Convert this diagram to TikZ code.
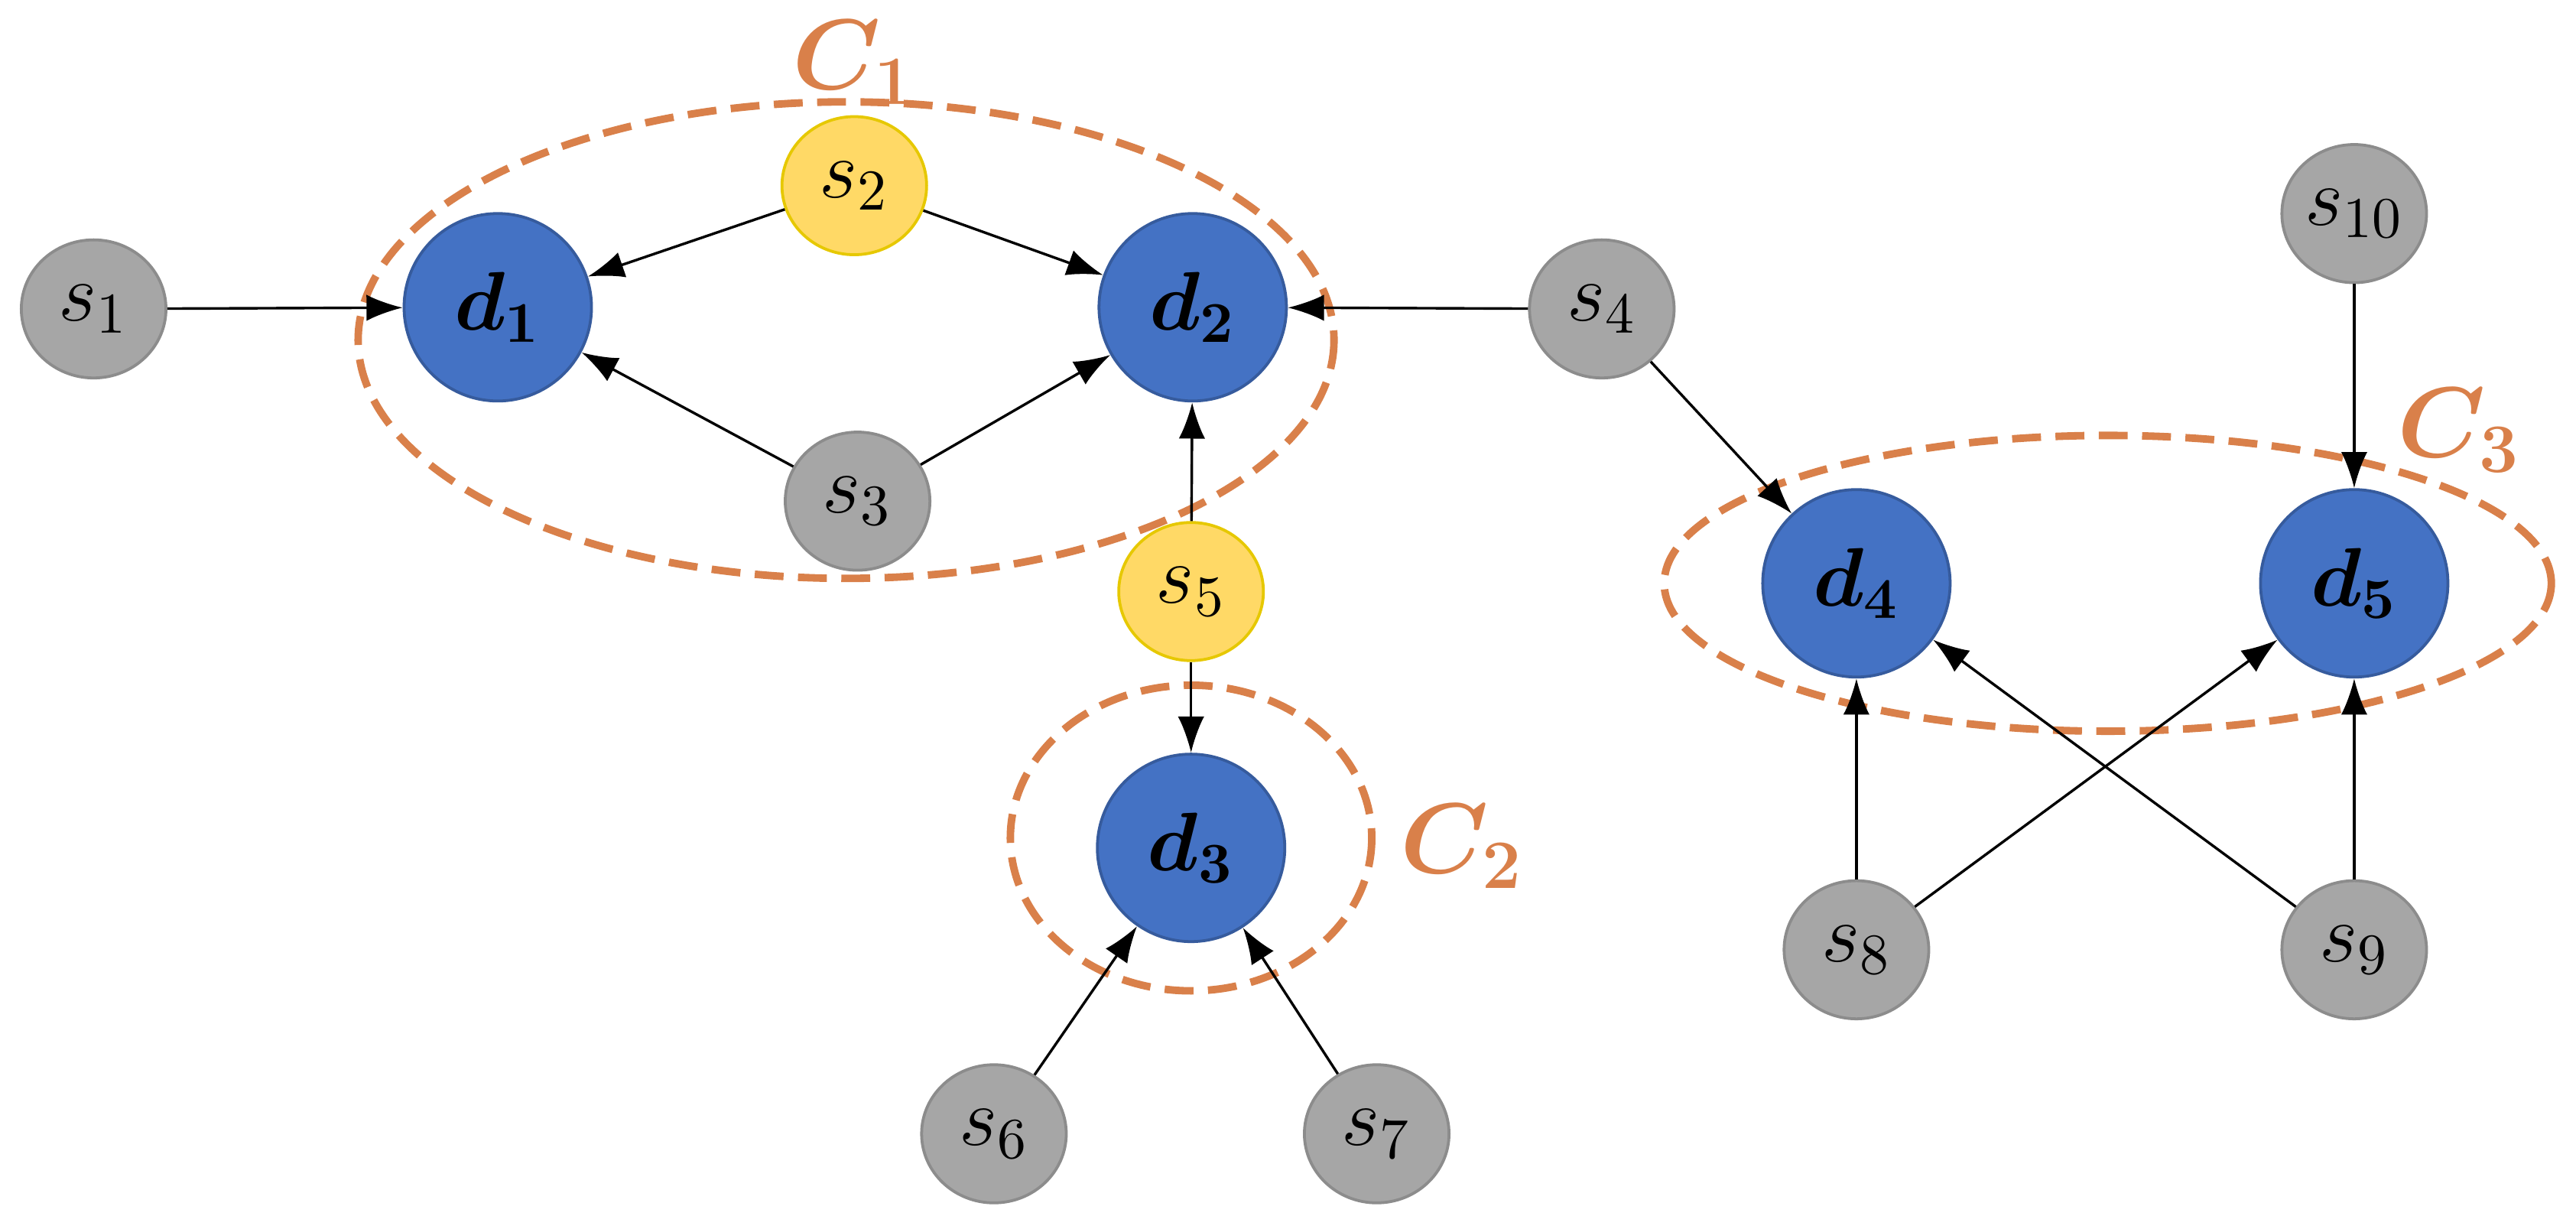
\documentclass[tikz,border=0pt]{standalone}
\usepackage{amsmath}
\usetikzlibrary{shapes.geometric,arrows.meta}
\definecolor{dblue}{HTML}{4472C4}
\definecolor{sgray}{HTML}{A6A6A6}
\definecolor{sgrayb}{HTML}{8C8C8C}
\definecolor{syel}{HTML}{FFD966}
\definecolor{syelb}{HTML}{E6C800}
\definecolor{corg}{HTML}{D9804A}
\begin{document}
\begin{tikzpicture}[x=0.01cm,y=-0.01cm,
  font=\fontsize{14}{16}\selectfont,
  src/.style={ellipse,draw=sgrayb,fill=sgray,line width=0.5pt,minimum width=0.88cm,minimum height=0.84cm,inner sep=0pt},
  ysrc/.style={src,draw=syelb,fill=syel},
  dst/.style={circle,draw=dblue!80!black,fill=dblue,line width=0.5pt,minimum size=1.14cm,inner sep=0pt},
  arr/.style={-{Latex[length=2.2mm,width=1.6mm]},line width=0.45pt},
  clu/.style={draw=corg,dashed,line width=1.3pt,dash pattern=on 5pt off 2.5pt},
  clab/.style={text=corg,font=\fontsize{17}{19}\selectfont}]
\useasboundingbox (0,0) rectangle (1568,740);
\draw[clu] (515,207) ellipse [x radius=297,y radius=145];
\draw[clu] (725,510) ellipse [x radius=110,y radius=93];
\draw[clu] (1283,355) ellipse [x radius=270,y radius=90];
\node[clab] (c1) at (520,38) {$\boldsymbol{C_1}$};
\node[clab] (c2) at (890,515) {$\boldsymbol{C_2}$};
\node[clab] (c3) at (1497,262) {$\boldsymbol{C_3}$};
\node[src] (s1) at (57,188) {$s_1$};
\node[ysrc] (s2) at (520,113) {$s_2$};
\node[src] (s3) at (522,305) {$s_3$};
\node[src] (s4) at (975,188) {$s_4$};
\node[ysrc] (s5) at (725,360) {$s_5$};
\node[src] (s6) at (605,690) {$s_6$};
\node[src] (s7) at (838,690) {$s_7$};
\node[src] (s8) at (1130,578) {$s_8$};
\node[src] (s9) at (1433,578) {$s_9$};
\node[src] (s10) at (1433,130) {$s_{10}$};
\node[dst] (d1) at (303,187) {$\boldsymbol{d_1}$};
\node[dst] (d2) at (726,187) {$\boldsymbol{d_2}$};
\node[dst] (d3) at (725,516) {$\boldsymbol{d_3}$};
\node[dst] (d4) at (1130,355) {$\boldsymbol{d_4}$};
\node[dst] (d5) at (1433,355) {$\boldsymbol{d_5}$};
\draw[arr] (s1) -- (d1);
\draw[arr] (s2) -- (d1);
\draw[arr] (s2) -- (d2);
\draw[arr] (s3) -- (d1);
\draw[arr] (s3) -- (d2);
\draw[arr] (s4) -- (d2);
\draw[arr] (s4) -- (d4);
\draw[arr] (s5) -- (d2);
\draw[arr] (s5) -- (d3);
\draw[arr] (s6) -- (d3);
\draw[arr] (s7) -- (d3);
\draw[arr] (s8) -- (d4);
\draw[arr] (s8) -- (d5);
\draw[arr] (s9) -- (d4);
\draw[arr] (s9) -- (d5);
\draw[arr] (s10) -- (d5);
\end{tikzpicture}
\end{document}
